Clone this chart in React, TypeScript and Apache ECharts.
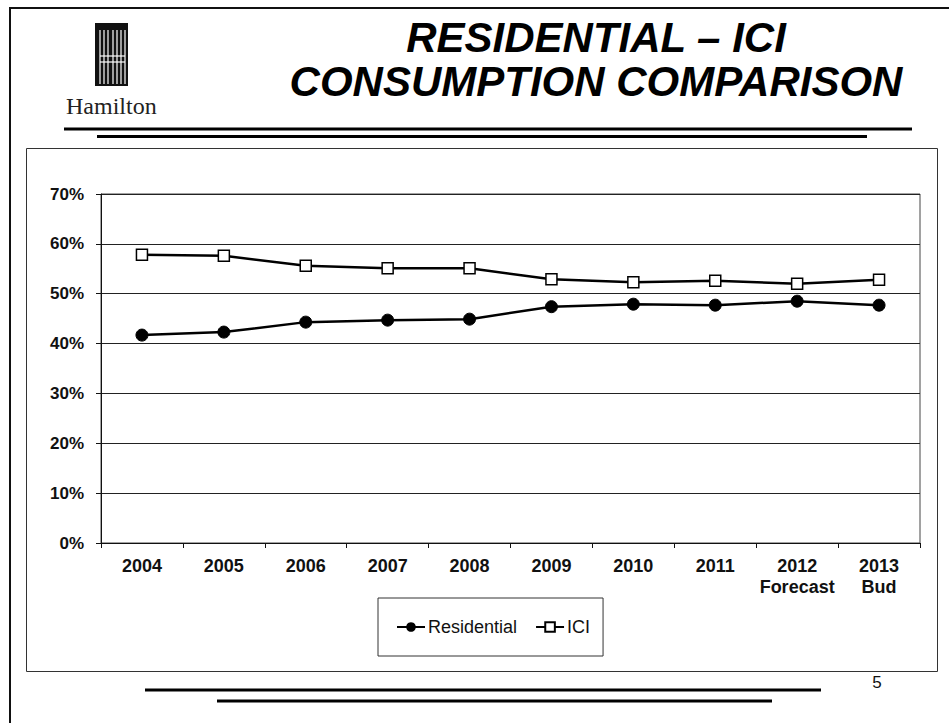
import React, { useEffect, useRef } from "react";
import * as echarts from "echarts";

const categories = ["2004", "2005", "2006", "2007", "2008", "2009", "2010", "2011", "2012\nForecast", "2013\nBud"];
const residential = [41.7, 42.3, 44.3, 44.7, 44.9, 47.4, 47.9, 47.7, 48.5, 47.7];
const ici = [57.8, 57.6, 55.6, 55.1, 55.1, 52.9, 52.3, 52.6, 52.0, 52.8];
const titleLines = ["RESIDENTIAL \u2013 ICI", "CONSUMPTION COMPARISON"];
const pageNumber = "5";

const SANS = '"Liberation Sans", Arial, sans-serif';

export default function App() {
  const ref = useRef<HTMLDivElement>(null);
  useEffect(() => {
    if (!ref.current) return;
    const chart = echarts.init(ref.current, null, { renderer: "svg" });
    const logoLines = [100, 104, 108, 113, 117, 121, 125].map((x) => ({
      type: "line",
      shape: { x1: x, y1: 30, x2: x, y2: 84 },
      style: { stroke: "#fff", lineWidth: 1.2 },
    }));
    chart.setOption({
      animation: false,
      backgroundColor: "#fff",
      grid: {
        left: 101,
        right: 29,
        top: 194,
        bottom: 180,
        show: true,
        borderColor: "#444",
        borderWidth: 1,
      },
      legend: {
        left: 378,
        top: 598,
        padding: [20, 13, 20, 18],
        backgroundColor: "#fff",
        borderColor: "#333",
        borderWidth: 1,
        itemWidth: 28,
        itemHeight: 12,
        itemGap: 18,
        textStyle: { fontFamily: SANS, fontSize: 18, color: "#111", padding: [0, 0, 0, -2] },
        data: ["Residential", "ICI"],
      },
      xAxis: {
        type: "category",
        data: categories,
        boundaryGap: true,
        axisLine: { lineStyle: { color: "#111", width: 1 } },
        axisTick: { show: true, length: 5, alignWithLabel: false, lineStyle: { color: "#111" } },
        axisLabel: {
          interval: 0,
          margin: 12,
          color: "#111",
          fontFamily: SANS,
          fontWeight: "bold",
          fontSize: 18,
          lineHeight: 21,
        },
        splitLine: { show: false },
      },
      yAxis: {
        type: "value",
        min: 0,
        max: 70,
        interval: 10,
        axisLine: { show: true, lineStyle: { color: "#111", width: 1 } },
        axisTick: { show: true, length: 5, lineStyle: { color: "#111" } },
        axisLabel: {
          formatter: "{value}%",
          margin: 17,
          color: "#111",
          fontFamily: SANS,
          fontWeight: "bold",
          fontSize: 17,
        },
        splitLine: { show: true, lineStyle: { color: "#222", width: 1 } },
      },
      series: [
        {
          name: "Residential",
          type: "line",
          data: residential,
          symbol: "circle",
          symbolSize: 12,
          lineStyle: { color: "#000", width: 2.5 },
          itemStyle: { color: "#000", borderColor: "#000" },
        },
        {
          name: "ICI",
          type: "line",
          data: ici,
          symbol: "rect",
          symbolSize: 11,
          lineStyle: { color: "#000", width: 2.5 },
          itemStyle: { color: "#fff", borderColor: "#000", borderWidth: 1.5 },
        },
      ],
      graphic: [
        // page frame
        { type: "rect", shape: { x: 10, y: 8, width: 1000, height: 800 }, style: { fill: "none", stroke: "#111", lineWidth: 2 }, silent: true, z: -10 },
        // chart box
        { type: "rect", shape: { x: 26.5, y: 148.5, width: 911, height: 523 }, style: { fill: "none", stroke: "#333", lineWidth: 1 }, silent: true, z: -5 },
        // logo
        { type: "rect", shape: { x: 95, y: 23, width: 33, height: 63 }, style: { fill: "#111" } },
        ...logoLines,
        { type: "line", shape: { x1: 100, y1: 56, x2: 125, y2: 56 }, style: { stroke: "#fff", lineWidth: 1.2 } },
        { type: "line", shape: { x1: 100, y1: 62, x2: 125, y2: 62 }, style: { stroke: "#fff", lineWidth: 1.2 } },
        {
          type: "text",
          style: { text: "Hamilton", x: 66, y: 118, textAlign: "left", textVerticalAlign: "bottom", fill: "#222", font: '24px "Liberation Serif", "DejaVu Serif", serif' },
        },
        // title
        {
          type: "text",
          style: { text: titleLines[0], x: 596, y: 58, textAlign: "center", textVerticalAlign: "bottom", fill: "#000", font: 'italic bold 42px "Liberation Sans", Arial, sans-serif' },
        },
        {
          type: "text",
          style: { text: titleLines[1], x: 596, y: 102, textAlign: "center", textVerticalAlign: "bottom", fill: "#000", font: 'italic bold 42px "Liberation Sans", Arial, sans-serif' },
        },
        // header rules
        { type: "line", shape: { x1: 64, y1: 129, x2: 912, y2: 129 }, style: { stroke: "#000", lineWidth: 3 } },
        { type: "line", shape: { x1: 97, y1: 136.5, x2: 867, y2: 136.5 }, style: { stroke: "#000", lineWidth: 3 } },
        // footer rules
        { type: "line", shape: { x1: 145, y1: 690, x2: 821, y2: 690 }, style: { stroke: "#000", lineWidth: 3 } },
        { type: "line", shape: { x1: 217, y1: 701, x2: 772, y2: 701 }, style: { stroke: "#000", lineWidth: 3 } },
        {
          type: "text",
          style: { text: pageNumber, x: 877, y: 682, textAlign: "center", textVerticalAlign: "middle", fill: "#111", font: '17px "Liberation Sans", Arial, sans-serif' },
        },
      ],
    });
    return () => chart.dispose();
  }, []);
  return <div ref={ref} style={{ position: "fixed", left: 0, top: 0, width: 949, height: 723 }} />;
}
